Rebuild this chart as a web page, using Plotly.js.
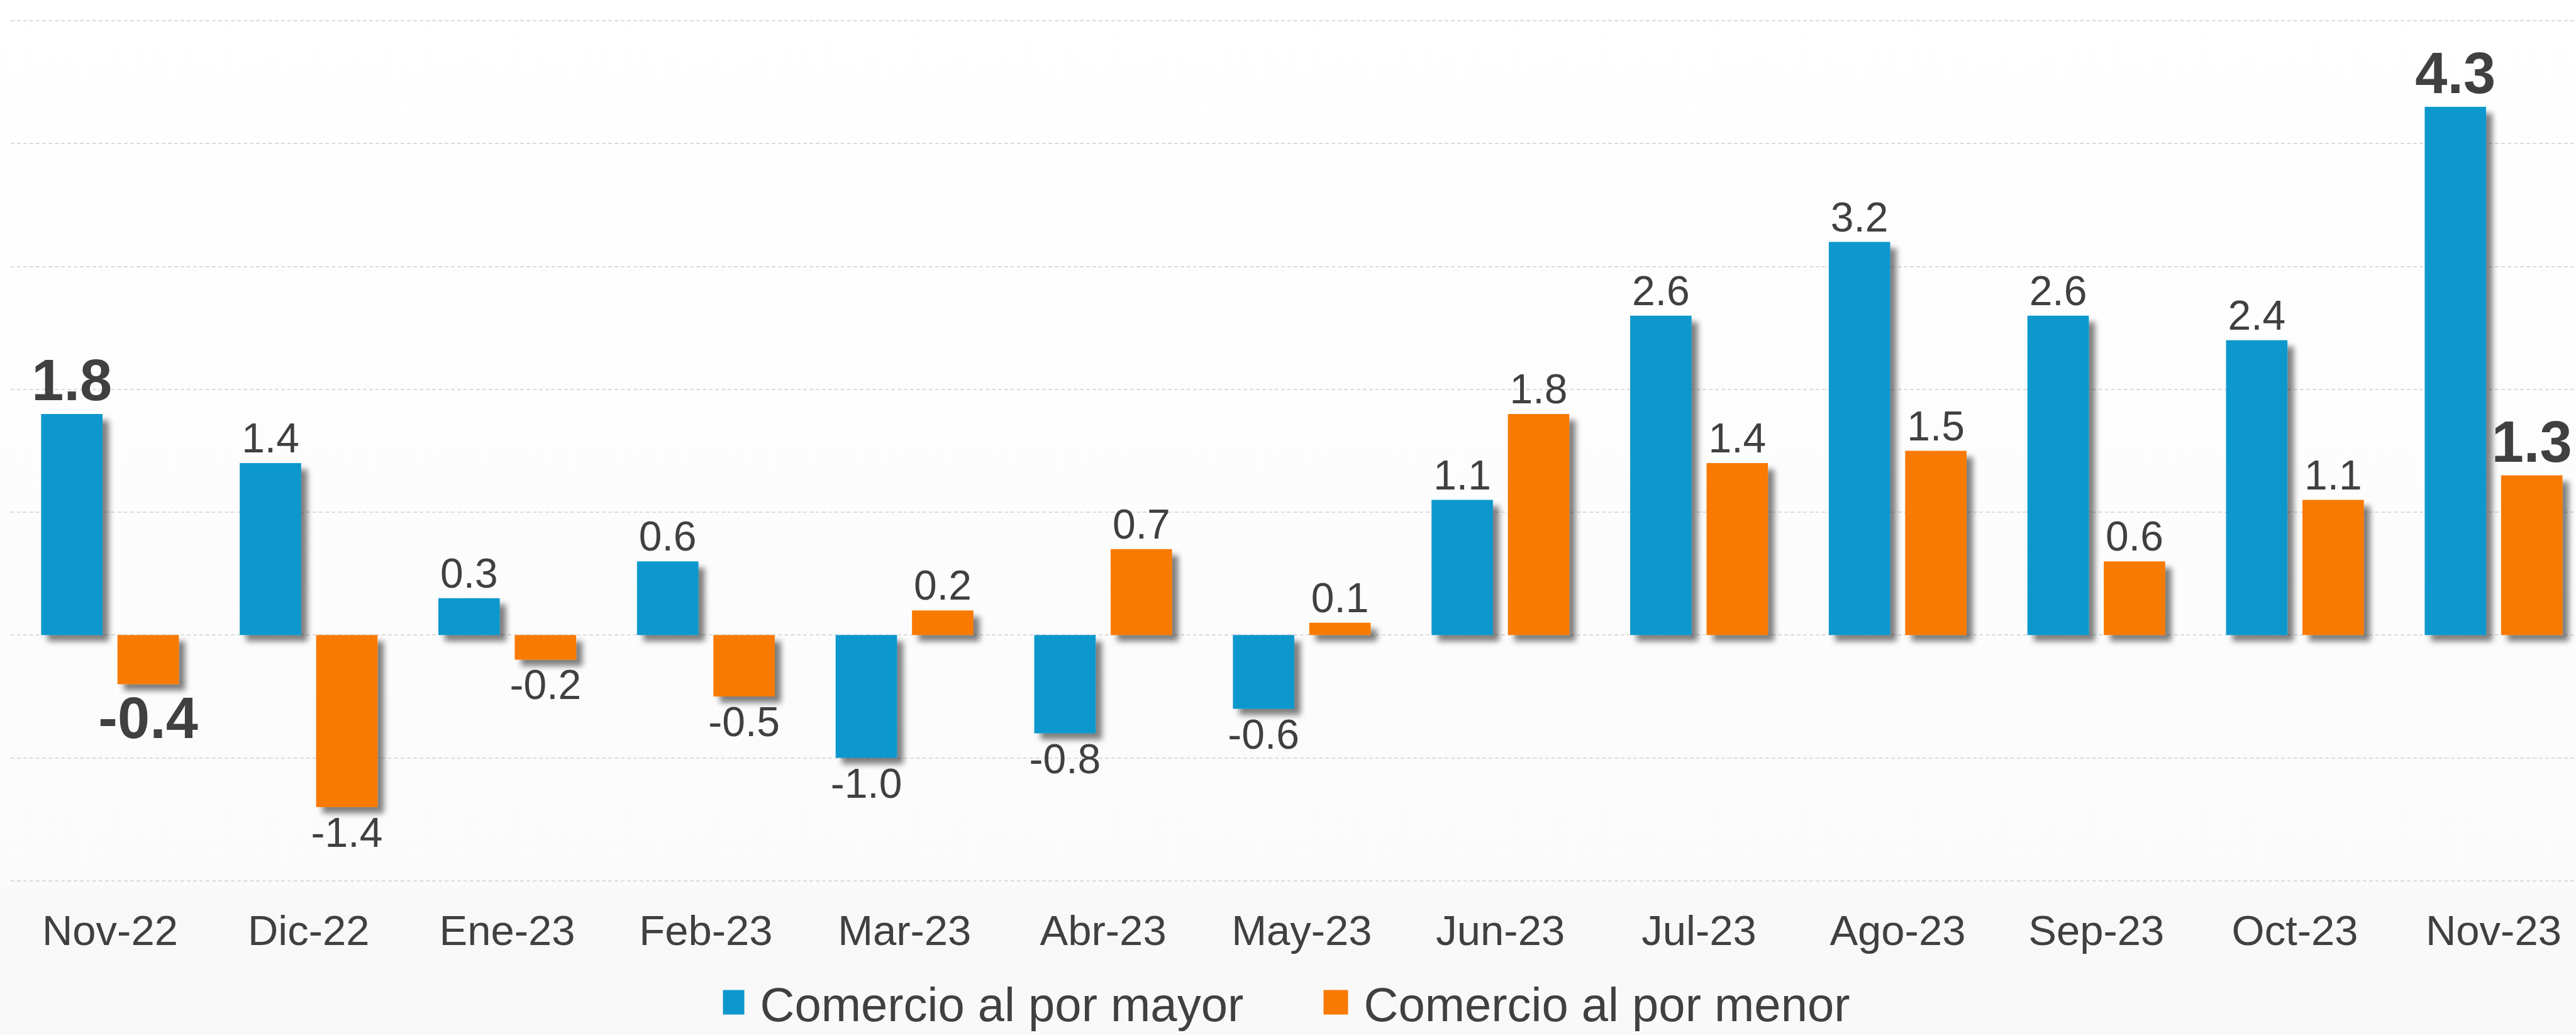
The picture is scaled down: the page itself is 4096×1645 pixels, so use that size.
<!DOCTYPE html>
<html>
<head>
<meta charset="utf-8">
<script src="https://cdn.plot.ly/plotly-3.0.1.min.js"></script>
<style>
  html, body { margin: 0; padding: 0; }
  body { width: 4096px; height: 1645px; overflow: hidden;
         background: linear-gradient(to bottom, #ffffff 0%, #fbfbfb 85%, #f8f8f8 87%, #f9f9f9 100%); }
  #chart { width: 4096px; height: 1645px; }
  .js-plotly-plot .barlayer .trace .point path { filter: url(#dshadow); }
</style>
</head>
<body>
<svg width="0" height="0" style="position:absolute">
  <defs>
    <filter id="dshadow" filterUnits="userSpaceOnUse" x="-2000" y="-2000" width="10000" height="10000">
      <feGaussianBlur in="SourceAlpha" stdDeviation="5"/>
      <feOffset dx="10" dy="10" result="ob"/>
      <feComponentTransfer in="ob" result="sh"><feFuncA type="linear" slope="0.5"/></feComponentTransfer>
      <feMerge><feMergeNode in="sh"/><feMergeNode in="SourceGraphic"/></feMerge>
    </filter>
  </defs>
</svg>
<div id="chart"></div>
<script>
const categories = ["Nov-22","Dic-22","Ene-23","Feb-23","Mar-23","Abr-23","May-23","Jun-23","Jul-23","Ago-23","Sep-23","Oct-23","Nov-23"];
const mayor = [1.8, 1.4, 0.3, 0.6, -1.0, -0.8, -0.6, 1.1, 2.6, 3.2, 2.6, 2.4, 4.3];
const menor = [-0.4, -1.4, -0.2, -0.5, 0.2, 0.7, 0.1, 1.8, 1.4, 1.5, 0.6, 1.1, 1.3];
const seriesNames = ["Comercio al por mayor", "Comercio al por menor"];
const highlighted = [0, 12];

const FONT = "Liberation Sans, Arial, sans-serif";
function labels(vals) {
  return vals.map((v, i) => highlighted.includes(i) ? "<b>" + v.toFixed(1) + "</b>" : v.toFixed(1));
}
function sizes(vals) {
  return vals.map((v, i) => highlighted.includes(i) ? 92 : 66);
}
function barTrace(vals, name, color) {
  return {
    type: "bar", x: categories, y: vals, name: name,
    marker: { color: color, line: { width: 0 } },
    text: labels(vals), textposition: "outside", cliponaxis: false,
    constraintext: "none",
    textfont: { family: FONT, color: "#404040", size: sizes(vals) },
    hoverinfo: "none"
  };
}
const data = [
  barTrace(mayor, seriesNames[0], "#0D98CD"),
  barTrace(menor, seriesNames[1], "#F97A02")
];
const layout = {
  width: 4096, height: 1645,
  margin: { l: 17, r: 0, t: 0, b: 227, pad: 0, autoexpand: false },
  paper_bgcolor: "rgba(0,0,0,0)", plot_bgcolor: "rgba(0,0,0,0)",
  barmode: "group", bargap: 0.231, bargroupgap: 0.196,
  font: { family: FONT, color: "#404040" },
  xaxis: {
    type: "category", range: [-0.5, 12.415],
    showgrid: false, zeroline: false, showline: false, ticks: "",
    tickfont: { family: FONT, size: 67, color: "#404040" },
    ticklabelstandoff: 16,
    automargin: false, fixedrange: true
  },
  yaxis: {
    range: [-2.093, 5.17], dtick: 1, tick0: 0,
    showgrid: true, gridcolor: "#dcdcdc", gridwidth: 2, griddash: "6px,4px",
    zeroline: false, showline: false, showticklabels: false, ticks: "",
    automargin: false, fixedrange: true
  },
  showlegend: true,
  legend: {
    orientation: "h", x: 0.513, xanchor: "center", y: -0.1235, yanchor: "middle",
    font: { family: FONT, size: 76, color: "#404040" },
    bgcolor: "rgba(0,0,0,0)", itemwidth: 49, entrywidth: 896, traceorder: "normal"
  }
};
Plotly.newPlot("chart", data, layout, { staticPlot: true, displayModeBar: false }).then(function () {
  document.querySelectorAll(".legend .legendpoints path").forEach(function (p) {
    p.setAttribute("d", "M4.5,19.5H-34.5V-19.5H4.5Z");
  });
});
</script>
</body>
</html>
